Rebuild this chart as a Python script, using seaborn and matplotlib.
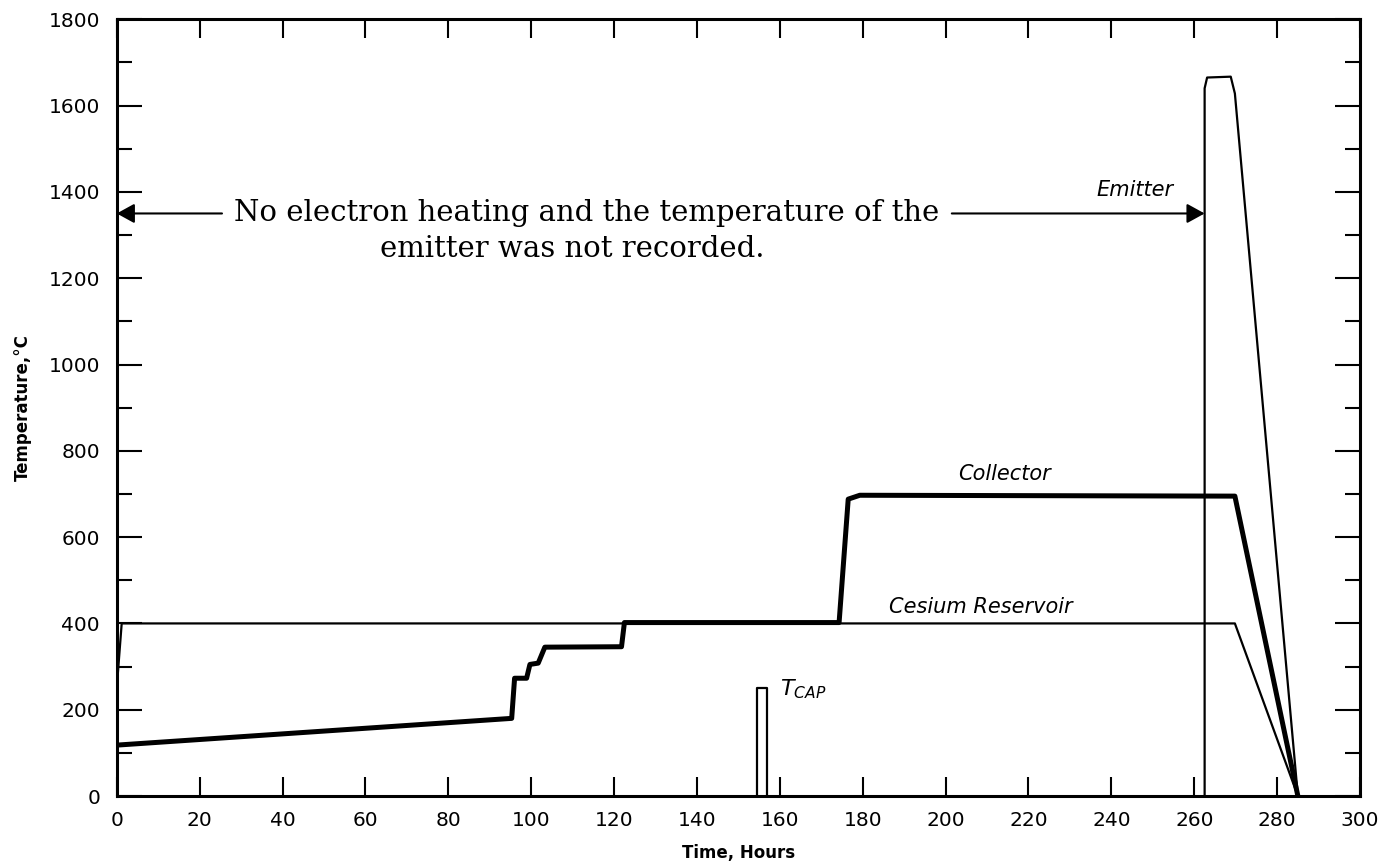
import seaborn as sns
import matplotlib.pyplot as plt
from matplotlib.ticker import MultipleLocator

# values: time in hours, temperature in deg C
collector_t = [0, 95.3, 96.0, 98.9, 99.7, 101.7, 103.3, 121.8, 122.5, 174.3, 176.5, 179.3, 269.8, 285]
collector_T = [118, 180, 273, 273, 305, 308, 345, 346, 402, 402, 688, 697, 695, 0]

cesium_t = [0, 1.2, 269.8, 285]
cesium_T = [250, 400, 400, 0]

emitter_t = [262.5, 262.5, 263.1, 268.8, 269.8, 285]
emitter_T = [0, 1640, 1665, 1667, 1628, 0]

tcap_t = [154.6, 154.6, 156.8, 156.8]
tcap_T = [0, 250, 250, 0]

x_ticks = list(range(0, 301, 20))
y_ticks = list(range(0, 1801, 200))

sns.set_style('ticks')
plt.rcParams['font.family'] = ['DejaVu Sans']
plt.rcParams.update({'text.color': 'black', 'axes.labelcolor': 'black',
                     'xtick.color': 'black', 'ytick.color': 'black'})

fig, ax = plt.subplots(figsize=(13.83, 8.68), dpi=100)
fig.subplots_adjust(left=0.0844, right=0.9834, bottom=0.0829, top=0.9778)

# thick line for the collector, thin for the rest
sns.lineplot(x=collector_t, y=collector_T, sort=False, estimator=None, color='black', lw=3.6, ax=ax)
sns.lineplot(x=cesium_t, y=cesium_T, sort=False, estimator=None, color='black', lw=1.6, ax=ax)
sns.lineplot(x=emitter_t, y=emitter_T, sort=False, estimator=None, color='black', lw=1.6, ax=ax)
sns.lineplot(x=tcap_t, y=tcap_T, sort=False, estimator=None, color='black', lw=1.6, ax=ax)

ax.set_xlim(0, 300)
ax.set_ylim(0, 1800)
ax.set_xticks(x_ticks)
ax.set_yticks(y_ticks)
ax.yaxis.set_minor_locator(MultipleLocator(100))
ax.tick_params(which='both', direction='in', top=True, right=True, width=1.5, color='black')
ax.tick_params(axis='x', which='major', length=14, pad=11, labelsize=14.5)
ax.tick_params(axis='y', which='major', length=18, pad=12, labelsize=14.5)
ax.tick_params(axis='y', which='minor', length=11)
for s in ax.spines.values():
    s.set_linewidth(2.2)
    s.set_color('black')

ax.set_xlabel('Time, Hours', fontsize=12, fontweight='bold', labelpad=10)
ax.set_ylabel('Temperature,°C', fontsize=12, fontweight='bold', labelpad=12)

# curve labels
ax.text(245.7, 1404, 'Emitter', fontsize=15, style='italic', ha='center', va='center')
ax.text(214.3, 746, 'Collector', fontsize=15, style='italic', ha='center', va='center')
ax.text(208.5, 438, 'Cesium Reservoir', fontsize=15, style='italic', ha='center', va='center')
ax.text(160, 248, '$T_{CAP}$', fontsize=16, ha='left', va='center')

# double arrow with the note in the gap
arr = dict(arrowstyle='-|>,head_length=0.4,head_width=0.22', color='black', lw=1.5,
           mutation_scale=27, shrinkA=0, shrinkB=0)
ax.annotate('', xy=(0, 1350), xytext=(25.4, 1350), arrowprops=arr)
ax.annotate('', xy=(262.5, 1350), xytext=(201.5, 1350), arrowprops=arr)
ax.text(113.3, 1350, 'No electron heating and the temperature of the', fontsize=21,
        family='DejaVu Serif', ha='center', va='center')
ax.text(109.8, 1268, 'emitter was not recorded.', fontsize=21,
        family='DejaVu Serif', ha='center', va='center')

plt.savefig('out.png', dpi=100)
